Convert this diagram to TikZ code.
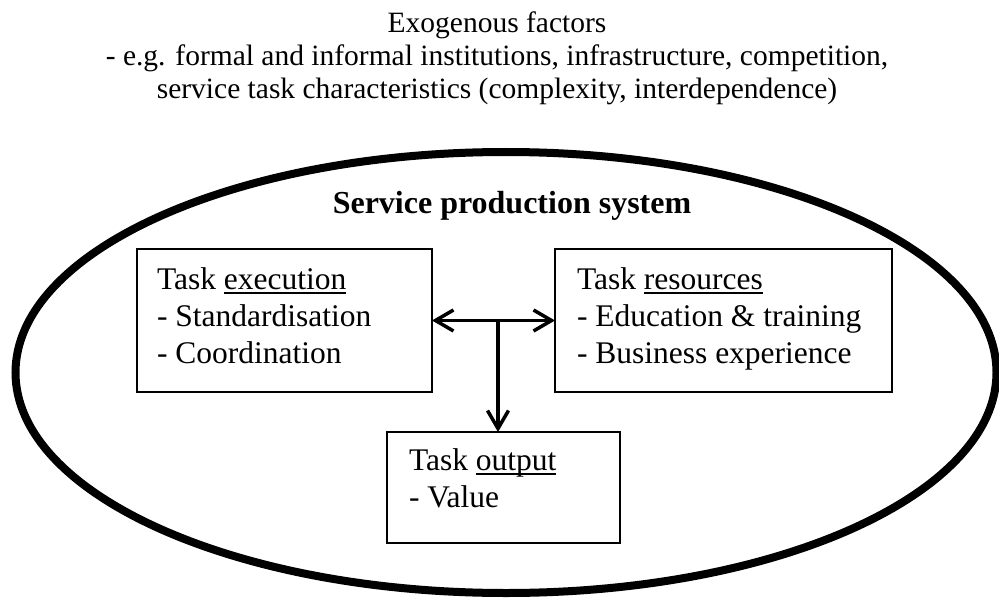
\documentclass[tikz,border=0pt]{standalone}
\usepackage{fontspec}
\setmainfont{Liberation Serif}
\usetikzlibrary{arrows.meta,shapes.geometric}
\newcommand{\myul}[1]{\setbox0=\hbox{#1}\leavevmode\rlap{\rule[-5pt]{\wd0}{1.8pt}}\box0}
\begin{document}
\begin{tikzpicture}[x=1pt,y=-1pt,
  box/.style={draw, line width=2pt, rectangle, inner sep=0pt, outer sep=0pt},
  txt/.style={inner sep=0pt, outer sep=0pt, font=\fontsize{31.5}{37}\selectfont},
  top/.style={inner sep=0pt, outer sep=0pt, font=\fontsize{29.5}{33}\selectfont},
  ttl/.style={inner sep=0pt, outer sep=0pt, font=\fontsize{32}{37}\selectfont\bfseries},
  arr/.style={line width=3.5pt, arrows={-Straight Barb[length=18pt,width=21pt]}},
  darr/.style={line width=3.5pt, arrows={Straight Barb[length=18pt,width=21pt]-Straight Barb[length=18pt,width=21pt]}}]
\useasboundingbox (0,0) rectangle (999,599);
\fill[white] (0,0) rectangle (999,599);
\node[top, anchor=base] (exo) at (497,33) {\begin{tabular}[t]{@{}c@{}}Exogenous factors\\- e.g. formal and informal institutions, infrastructure, competition,\\service task characteristics (complexity, interdependence)\end{tabular}};
\node[ellipse, draw, line width=8pt, inner sep=0pt, minimum width=981pt, minimum height=441pt] (sys) at (506,372.5) {};
\node[ttl, anchor=base] (title) at (512,213) {Service production system};
\node[box, minimum width=295pt, minimum height=143pt] (exe) at (284.5,320.5) {};
\node[box, minimum width=337pt, minimum height=143pt] (res) at (723.5,320.5) {};
\node[box, minimum width=233pt, minimum height=111pt] (out) at (503.5,487.5) {};
\node[txt, anchor=base west] (exetext) at (157,289) {\begin{tabular}[t]{@{}l@{}}Task \myul{execution}\\- Standardisation\\- Coordination\end{tabular}};
\node[txt, anchor=base west] (restext) at (577,289) {\begin{tabular}[t]{@{}l@{}}Task \myul{resources}\\- Education \& training\\- Business experience\end{tabular}};
\node[txt, anchor=base west] (outtext) at (409,470) {\begin{tabular}[t]{@{}l@{}}Task \myul{output}\\- Value\end{tabular}};
\draw[darr] (exe.east) -- (res.west);
\coordinate (j) at (498,320.5);
\draw[arr] (j) -- (j |- out.north);
\end{tikzpicture}
\end{document}
